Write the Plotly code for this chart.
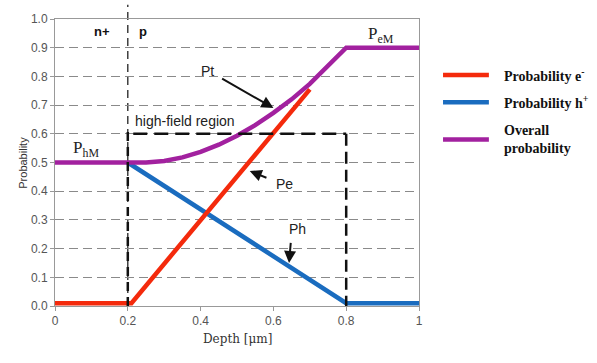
import plotly.graph_objects as go

# Data
pe_x = [0.0, 0.21, 0.70]
pe_y = [0.01, 0.01, 0.755]
ph_x = [0.2, 0.8, 1.0]
ph_y = [0.5, 0.01, 0.01]
pt_x = [0.0, 0.2, 0.25, 0.3, 0.35, 0.4, 0.45, 0.5, 0.55, 0.6, 0.65, 0.7, 0.75, 0.8, 1.0]
pt_y = [0.5, 0.5, 0.50, 0.505, 0.518, 0.537, 0.562, 0.593, 0.630, 0.673, 0.720, 0.774, 0.835, 0.9, 0.9]
x_ticks = [0, 0.2, 0.4, 0.6, 0.8, 1]
x_labels = ["0", "0.2", "0.4", "0.6", "0.8", "1"]
y_ticks = [0, 0.1, 0.2, 0.3, 0.4, 0.5, 0.6, 0.7, 0.8, 0.9, 1.0]
y_labels = ["0.0", "0.1", "0.2", "0.3", "0.4", "0.5", "0.6", "0.7", "0.8", "0.9", "1.0"]
legend_names = ["Probability e<sup>-</sup>", "Probability h<sup>+</sup>", "Overall<br>probability"]

RED = "#f42a0c"
BLUE = "#1a6cbf"
PURPLE = "#a2219f"

fig = go.Figure()
fig.add_trace(go.Scatter(x=ph_x, y=ph_y, mode="lines", line=dict(color=BLUE, width=4.5), showlegend=False))
fig.add_trace(go.Scatter(x=pe_x, y=pe_y, mode="lines", line=dict(color=RED, width=4.5), showlegend=False))
fig.add_trace(go.Scatter(x=pt_x, y=pt_y, mode="lines", line=dict(color=PURPLE, width=4.5), showlegend=False))

shapes = []
# thin dashed n+/p boundary extending above the plot
shapes.append(dict(type="line", xref="x", yref="paper", x0=0.2, x1=0.2, y0=0, y1=1.05,
                   line=dict(color="#222", width=1.3, dash="8px,5px"), layer="below"))
# high-field region box (thick dashes)
shapes.append(dict(type="line", xref="x", yref="y", x0=0.2, x1=0.2, y0=0.0, y1=0.61,
                   line=dict(color="#111", width=2.5, dash="9px,6px")))
shapes.append(dict(type="line", xref="x", yref="y", x0=0.215, x1=0.8, y0=0.6, y1=0.6,
                   line=dict(color="#111", width=2.5, dash="14px,7px")))
shapes.append(dict(type="line", xref="x", yref="y", x0=0.8, x1=0.8, y0=0.6, y1=0.0,
                   line=dict(color="#111", width=2.5, dash="12px,6px")))

# legend swatches
leg_y = [0.805, 0.71, 0.58]
leg_cols = [RED, BLUE, PURPLE]
for yy, cc in zip(leg_y, leg_cols):
    shapes.append(dict(type="line", xref="paper", yref="paper", x0=1.066, x1=1.192, y0=yy, y1=yy,
                       line=dict(color=cc, width=4.5)))

annotations = []
for yy, name in zip(leg_y, legend_names):
    annotations.append(dict(x=1.228, y=yy, xref="paper", yref="paper", text="<b>" + name + "</b>",
                            showarrow=False, xanchor="left", yanchor="middle", align="left",
                            font=dict(family="Liberation Serif", size=14, color="#111")))

annotations += [
    dict(x=0.13, y=0.955, text="<b>n+</b>", showarrow=False, font=dict(family="Liberation Sans", size=13, color="#111")),
    dict(x=0.243, y=0.955, text="<b>p</b>", showarrow=False, font=dict(family="Liberation Sans", size=13, color="#111")),
    dict(x=0.215, y=0.645, text="high-field region", showarrow=False, xanchor="left",
         font=dict(family="Liberation Sans", size=14, color="#222")),
    dict(x=0.045, y=0.548, text="P<sub>hM</sub>", showarrow=False, xanchor="left",
         font=dict(family="Liberation Serif", size=17, color="#222")),
    dict(x=0.855, y=0.945, text="P<sub>eM</sub>", showarrow=False, xanchor="left",
         font=dict(family="Liberation Serif", size=17, color="#222")),
    dict(x=0.6, y=0.69, ax=0.455, ay=0.795, xref="x", yref="y", axref="x", ayref="y", text="",
         showarrow=True, arrowhead=2, arrowsize=1.2, arrowwidth=2, arrowcolor="#111"),
    dict(x=0.42, y=0.82, text="Pt", showarrow=False, font=dict(family="Liberation Sans", size=14, color="#222")),
    dict(x=0.535, y=0.47, ax=0.585, ay=0.445, xref="x", yref="y", axref="x", ayref="y", text="",
         showarrow=True, arrowhead=2, arrowsize=1.2, arrowwidth=2, arrowcolor="#111"),
    dict(x=0.63, y=0.425, text="Pe", showarrow=False, font=dict(family="Liberation Sans", size=14, color="#222")),
    dict(x=0.643, y=0.15, ax=0.648, ay=0.225, xref="x", yref="y", axref="x", ayref="y", text="",
         showarrow=True, arrowhead=2, arrowsize=1.2, arrowwidth=2, arrowcolor="#111"),
    dict(x=0.665, y=0.27, text="Ph", showarrow=False, font=dict(family="Liberation Sans", size=14, color="#222")),
    dict(x=-0.112, y=0.5, xref="paper", yref="paper", text="Probability", textangle=-90, showarrow=False,
         font=dict(family="Liberation Sans", size=11, color="#333")),
    dict(x=0.5, y=-0.145, xref="paper", yref="paper", text="Depth [μm]", showarrow=False,
         font=dict(family="DejaVu Serif", size=12, color="#333")),
]

fig.update_layout(
    width=597, height=363,
    margin=dict(l=55, r=178, t=16, b=57),
    paper_bgcolor="white", plot_bgcolor="white",
    shapes=shapes, annotations=annotations,
    showlegend=False,
)
fig.update_xaxes(range=[0, 1], tickvals=x_ticks, ticktext=x_labels, showgrid=False, zeroline=False,
                 showline=True, linecolor="#999", linewidth=1, mirror=True,
                 ticks="outside", ticklen=4, tickcolor="#999",
                 tickfont=dict(family="Liberation Sans", size=12, color="#555"))
fig.update_yaxes(range=[0, 1], tickvals=y_ticks, ticktext=y_labels, showgrid=True, gridcolor="#8a8a8a",
                 griddash="9px,5px", gridwidth=1, zeroline=False,
                 showline=True, linecolor="#999", linewidth=1, mirror=True,
                 ticks="outside", ticklen=4, tickcolor="#999",
                 tickfont=dict(family="Liberation Sans", size=12, color="#555"))

fig.write_html("out.html")
